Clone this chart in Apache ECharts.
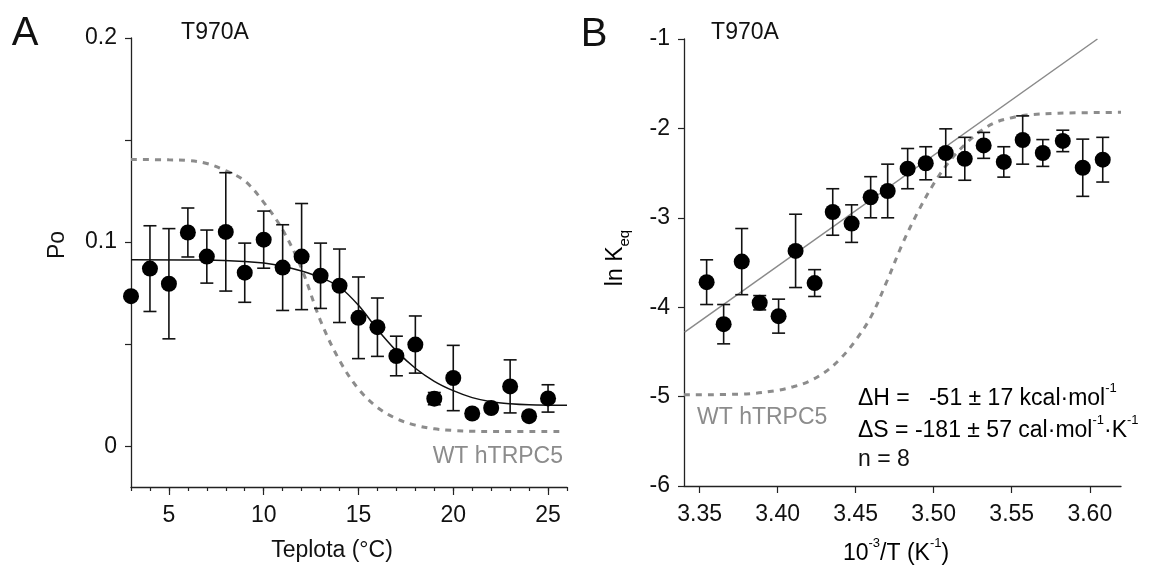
<!DOCTYPE html>
<html>
<head>
<meta charset="utf-8">
<title>T970A</title>
<script src="https://cdn.jsdelivr.net/npm/echarts@6.0.0/dist/echarts.min.js"></script>
<style>
html,body{margin:0;padding:0;background:#fff;}
#main{width:1170px;height:566px;}
</style>
</head>
<body>
<div id="main"></div>
<script>
// panel A : Po vs temperature
var tempA = [3,4,5,6,7,8,9,10,11,12,13,14,15,16,17,18,19,20,21,22,23,24,25];
var poA = [0.0735,0.087,0.0796,0.1047,0.0929,0.105,0.085,0.1012,0.0875,0.0929,0.0835,0.0786,0.0629,0.0583,0.0442,0.0498,0.0233,0.0334,0.016,0.0187,0.0293,0.0147,0.0234];
var errA = [0,0.021,0.027,0.012,0.013,0.029,0.0145,0.014,0.021,0.026,0.016,0.018,0.020,0.0143,0.0097,0.014,0.003,0.016,0.002,0.002,0.013,0.002,0.0067];
// fit to T970A (solid)
var fitAx = [3,7,9,10,11,12,13,14,15,16,17,18,19,20,21,22,23,24,26];
var fitAy = [0.0914,0.0912,0.0905,0.0897,0.0882,0.0858,0.0826,0.0780,0.0690,0.0572,0.0467,0.0382,0.0318,0.0272,0.0238,0.0218,0.0208,0.0203,0.0200];
// WT hTRPC5 (dashed)
var wtAx = [3,5,6,7,8,9,10,11,12,13,14,15,16,17,18,19,20,21,22,25.8];
var wtAy = [0.1405,0.1403,0.1400,0.1385,0.1350,0.1300,0.1195,0.1060,0.0870,0.0614,0.0420,0.0280,0.0190,0.0135,0.0103,0.0085,0.0077,0.0073,0.0072,0.0072];
var ticksAx = [3,4,5,6,7,8,9,10,11,12,13,14,15,16,17,18,19,20,21,22,23,24,25,26];
var labelsAx = [5,10,15,20,25];
var ticksAy = [0,0.05,0.1,0.15,0.2];
var labelsAy = [0,0.1,0.2];

// panel B : van't Hoff plot
var invT = [3.3545,3.3654,3.377,3.3885,3.4006,3.4115,3.4237,3.4353,3.4474,3.4596,3.4705,3.4833,3.4949,3.5077,3.5199,3.532,3.5449,3.557,3.5699,3.5827,3.5955,3.6083];
var lnK = [-3.72,-4.19,-3.49,-3.95,-4.10,-3.37,-3.73,-2.935,-3.065,-2.77,-2.70,-2.45,-2.39,-2.275,-2.34,-2.19,-2.375,-2.13,-2.275,-2.14,-2.44,-2.35];
var errB = [0.25,0.22,0.37,0.08,0.19,0.41,0.15,0.26,0.21,0.23,0.30,0.225,0.185,0.27,0.24,0.145,0.17,0.27,0.15,0.12,0.32,0.25];
var fitBx = [3.3404,3.6049];
var fitBy = [-4.28,-1.0];
var wtBx = [3.34,3.38,3.40,3.41,3.42,3.43,3.44,3.45,3.46,3.47,3.48,3.49,3.50,3.51,3.52,3.53,3.54,3.55,3.56,3.58,3.62];
var wtBy = [-4.98,-4.97,-4.93,-4.89,-4.83,-4.73,-4.58,-4.37,-4.10,-3.71,-3.29,-2.93,-2.62,-2.37,-2.18,-2.03,-1.93,-1.88,-1.85,-1.83,-1.82];
var labelsBx = [3.35,3.40,3.45,3.50,3.55,3.60];

var FONT = '"Liberation Sans", Arial, sans-serif';
var FS = 23;
var myChart = echarts.init(document.getElementById('main'));

function pairs(xs, ys){
	var out = [];
	for(var i=0;i<xs.length;i++) out.push([xs[i], ys[i]]);
	return out;
}
function triples(xs, ys, es){
	var out = [];
	for(var i=0;i<xs.length;i++) out.push([xs[i], ys[i], es[i]]);
	return out;
}

function renderErr(params, api){
	var x = api.value(0), y = api.value(1), e = api.value(2);
	if(!e) return null;
	var hi = api.coord([x, y+e]);
	var lo = api.coord([x, y-e]);
	var w = 6.5;
	var st = {stroke:'#111', lineWidth:1.6};
	return {
		type:'group',
		children:[
			{type:'line', shape:{x1:hi[0],y1:hi[1],x2:lo[0],y2:lo[1]}, style:st},
			{type:'line', shape:{x1:hi[0]-w,y1:hi[1],x2:hi[0]+w,y2:hi[1]}, style:st},
			{type:'line', shape:{x1:lo[0]-w,y1:lo[1],x2:lo[0]+w,y2:lo[1]}, style:st}
		]
	};
}

var axLine = {show:true, onZero:false, lineStyle:{color:'#222', width:1.3}};
var lbl = {color:'#111', fontSize:FS, fontFamily:FONT};

function rich(text, x, y, align){
	return {type:'text', x:x, y:y, style:{
		text:text, align:align, verticalAlign:'middle',
		rich:{
			b:{fontSize:FS, fontFamily:FONT, color:'#111', lineHeight:28, verticalAlign:'bottom'},
			sup:{fontSize:13, fontFamily:FONT, color:'#111', lineHeight:13, verticalAlign:'top'}
		}}};
}
function plain(text, x, y, align, size, color){
	return {type:'text', x:x, y:y, style:{text:text, font:size+'px '+FONT, fill:color||'#111', align:align, verticalAlign:'middle'}};
}

var option = {
	animation:false,
	backgroundColor:'#fff',
	grid:[
		{left:131, top:38, width:436, height:449, outerBoundsMode:'none'},
		{left:684, top:39, width:437, height:447, outerBoundsMode:'none'}
	],
	xAxis:[
		{gridIndex:0, type:'value', position:'bottom', min:3, max:26, axisLine:axLine,
			axisTick:{show:true, customValues:ticksAx, length:4, lineStyle:{color:'#222', width:1.2}},
			axisLabel:{show:false}, splitLine:{show:false}},
		{gridIndex:0, type:'value', position:'bottom', min:3, max:26, axisLine:{show:false, onZero:false},
			axisTick:{show:true, customValues:labelsAx, length:8, lineStyle:{color:'#222', width:1.2}},
			axisLabel:Object.assign({customValues:labelsAx, margin:17}, lbl), splitLine:{show:false}},
		{gridIndex:1, type:'value', position:'bottom', min:3.34, max:3.62, axisLine:axLine,
			axisTick:{show:true, customValues:labelsBx, length:7, lineStyle:{color:'#222', width:1.2}},
			axisLabel:Object.assign({customValues:labelsBx, margin:17, formatter:function(v){return v.toFixed(2);}}, lbl),
			splitLine:{show:false}}
	],
	yAxis:[
		{gridIndex:0, type:'value', min:-0.02, max:0.2, axisLine:axLine,
			axisTick:{show:true, customValues:ticksAy, length:6, lineStyle:{color:'#222', width:1.2}},
			axisLabel:Object.assign({customValues:labelsAy, margin:14}, lbl), splitLine:{show:false}},
		{gridIndex:1, type:'value', min:-6, max:-1, interval:1, axisLine:axLine,
			axisTick:{show:true, length:6, lineStyle:{color:'#222', width:1.2}},
			axisLabel:Object.assign({margin:14}, lbl), splitLine:{show:false}}
	],
	series:[
		{type:'line', xAxisIndex:0, yAxisIndex:0, data:pairs(wtAx, wtAy), smooth:0.35,
			showSymbol:false, lineStyle:{color:'#8c8c8c', width:3, type:[6,6]}, z:1},
		{type:'line', xAxisIndex:0, yAxisIndex:0, data:pairs(fitAx, fitAy), smooth:0.35,
			showSymbol:false, lineStyle:{color:'#111', width:1.5}, z:2},
		{type:'custom', xAxisIndex:0, yAxisIndex:0, data:triples(tempA, poA, errA), renderItem:renderErr, z:3},
		{type:'scatter', xAxisIndex:0, yAxisIndex:0, data:pairs(tempA, poA), symbolSize:16,
			itemStyle:{color:'#000', opacity:1}, z:4},

		{type:'line', xAxisIndex:2, yAxisIndex:1, data:pairs(wtBx, wtBy), smooth:0.35,
			showSymbol:false, lineStyle:{color:'#8c8c8c', width:3, type:[6,6]}, z:1},
		{type:'line', xAxisIndex:2, yAxisIndex:1, data:pairs(fitBx, fitBy),
			showSymbol:false, lineStyle:{color:'#8a8a8a', width:1.5}, z:2},
		{type:'custom', xAxisIndex:2, yAxisIndex:1, data:triples(invT, lnK, errB), renderItem:renderErr, z:3},
		{type:'scatter', xAxisIndex:2, yAxisIndex:1, data:pairs(invT, lnK), symbolSize:16,
			itemStyle:{color:'#000', opacity:1}, z:4}
	],
	graphic:[
		plain('A', 25, 34, 'center', 40),
		plain('B', 594, 35, 'center', 40),
		plain('T970A', 215, 33, 'center', FS),
		plain('T970A', 745, 33, 'center', FS),
		plain('WT hTRPC5', 563, 457, 'right', FS, '#8c8c8c'),
		plain('WT hTRPC5', 697, 418, 'left', FS, '#8c8c8c'),
		{type:'text', x:58, y:245, rotation:Math.PI/2, style:{text:'Po', font:FS+'px '+FONT, fill:'#111', align:'center', verticalAlign:'middle'}},
		plain('Teplota (°C)', 332, 551, 'center', FS),
		{type:'text', x:616, y:258, rotation:Math.PI/2, style:{
			text:'{b|ln K}{sub|eq}', align:'center', verticalAlign:'middle',
			rich:{
				b:{fontSize:FS, fontFamily:FONT, color:'#111', lineHeight:32, verticalAlign:'middle'},
				sub:{fontSize:15, fontFamily:FONT, color:'#111', lineHeight:15, verticalAlign:'bottom'}
			}}},
		rich('{b|10}{sup|-3}{b|/T (K}{sup|-1}{b|)}', 896, 551, 'center'),
		rich('{b|\u0394H =   -51 \u00b1 17 kcal\u00b7mol}{sup|-1}', 858, 396, 'left'),
		rich('{b|\u0394S = -181 \u00b1 57 cal\u00b7mol}{sup|-1}{b|\u00b7K}{sup|-1}', 858, 428, 'left'),
		plain('n = 8', 858, 460, 'left', FS)
	]
};

myChart.setOption(option);
</script>
</body>
</html>
